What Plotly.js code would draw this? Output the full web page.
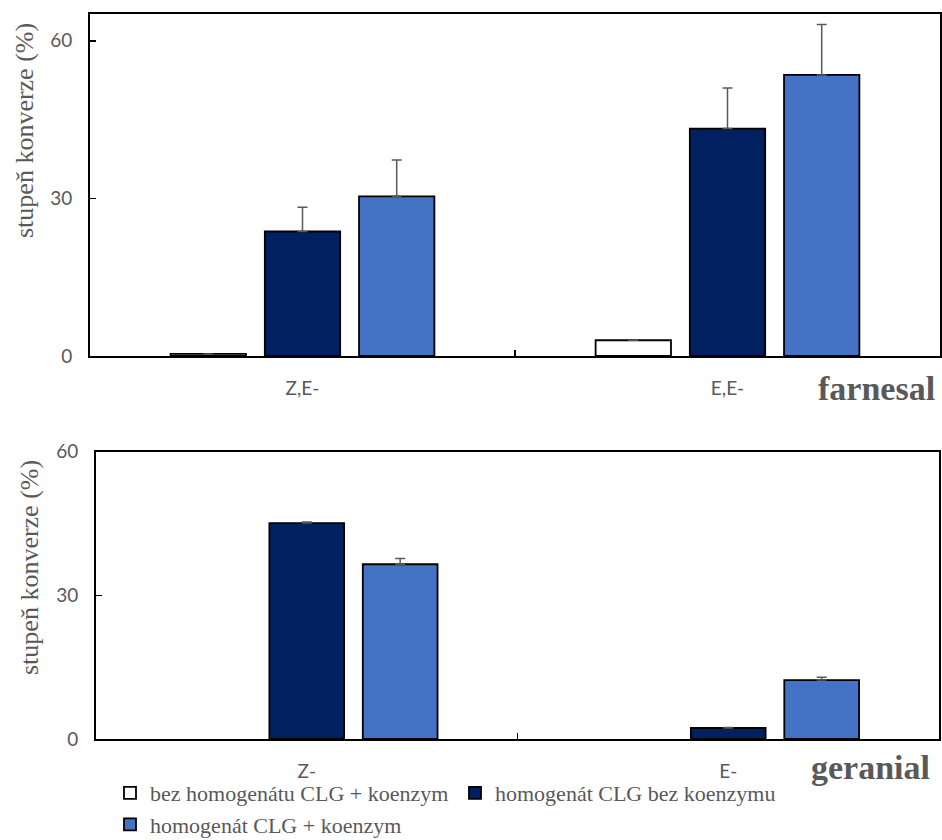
<!DOCTYPE html>
<html>
<head>
<meta charset="utf-8">
<script src="https://cdn.plot.ly/plotly-3.0.1.min.js"></script>
<style>html,body{margin:0;padding:0;background:#fff;}</style>
</head>
<body>
<div id="chart" style="width:942px;height:840px;"></div>
<script>
// ---- data ----
var seriesNames = ["bez homogenátu CLG + koenzym", "homogenát CLG bez koenzymu", "homogenát CLG + koenzym"];
var farnesalCats = ["Z,E-", "E,E-"];
var geranialCats = ["Z-", "E-"];

var farnesalNoHomog = [0.4, 3.0];
var farnesalNoCoenz = [23.7, 43.3];
var farnesalFull    = [30.4, 53.5];
var farnesalNoHomogErr = [0, 0];
var farnesalNoCoenzErr = [4.6, 7.7];
var farnesalFullErr    = [6.9, 9.6];

var geranialNoHomog = [null, null];
var geranialNoCoenz = [45.1, 2.3];
var geranialFull    = [36.5, 12.3];
var geranialNoHomogErr = [0, 0];
var geranialNoCoenzErr = [0.2, 0.1];
var geranialFullErr    = [1.2, 0.6];

var yTicks = [0, 30, 60];
var yTitle = "stupeň konverze (%)";
var panelLabels = ["farnesal", "geranial"];

// ---- styles ----
var fills = ["#FFFFFF", "#002060", "#4472C4"];
var grey = "#595959";
var serif = "'Liberation Serif', 'Times New Roman', serif";
var sans = "Lato, 'Open Sans', sans-serif";

function errObj(arr) {
  return {type: "data", symmetric: false, array: arr, arrayminus: arr.map(function(){return 0;}),
          color: grey, thickness: 1.5, width: 5};
}
function barTrace(name, cats, vals, err, idx, xa, ya, showLeg) {
  return {
    type: "bar", name: name, x: cats, y: vals, xaxis: xa, yaxis: ya,
    marker: {color: fills[idx], line: {color: "#000000", width: 1.8}},
    error_y: errObj(err), showlegend: showLeg, legendgroup: "g" + idx,
    hoverinfo: "x+y+name"
  };
}

var traces = [
  barTrace(seriesNames[0], farnesalCats, farnesalNoHomog, farnesalNoHomogErr, 0, "x", "y", true),
  barTrace(seriesNames[1], farnesalCats, farnesalNoCoenz, farnesalNoCoenzErr, 1, "x", "y", true),
  barTrace(seriesNames[2], farnesalCats, farnesalFull, farnesalFullErr, 2, "x", "y", true),
  barTrace(seriesNames[0], geranialCats, geranialNoHomog, geranialNoHomogErr, 0, "x2", "y2", false),
  barTrace(seriesNames[1], geranialCats, geranialNoCoenz, geranialNoCoenzErr, 1, "x2", "y2", false),
  barTrace(seriesNames[2], geranialCats, geranialFull, geranialFullErr, 2, "x2", "y2", false)
];

function xAxis(domain, anchor) {
  return {
    domain: domain, anchor: anchor, type: "category",
    showline: true, linecolor: "#000", linewidth: 2, mirror: true,
    ticks: "inside", ticklen: 6, tickwidth: 1.5, tickcolor: "#000", tickson: "boundaries",
    showgrid: false, zeroline: false, fixedrange: true, automargin: false,
    tickfont: {family: sans, size: 19, color: grey}, ticklabelstandoff: 14
  };
}
function yAxis(domain, anchor, range) {
  return {
    domain: domain, anchor: anchor, range: range,
    tickvals: yTicks, ticktext: yTicks.map(String),
    showline: true, linecolor: "#000", linewidth: 2, mirror: true,
    ticks: "inside", ticklen: 6, tickwidth: 1.5, tickcolor: "#000",
    showgrid: false, zeroline: false, fixedrange: true, automargin: false,
    tickfont: {family: sans, size: 19, color: grey}, ticklabelstandoff: 12
  };
}

var layout = {
  width: 942, height: 840,
  margin: {l: 0, r: 0, t: 0, b: 0, autoexpand: false},
  paper_bgcolor: "#fff", plot_bgcolor: "#fff",
  barmode: "group", bargap: 0.335, bargroupgap: 0.2,
  xaxis: xAxis([90/942, 940/942], "y"),
  yaxis: yAxis([1 - 356/840, 1 - 14/840], "x", [0, 65.1]),
  xaxis2: xAxis([96/942, 939/942], "y2"),
  yaxis2: yAxis([1 - 739/840, 1 - 451.7/840], "x2", [0, 60]),
  showlegend: true,
  legend: {
    orientation: "h", x: 110/942, xanchor: "left", y: 1 - 772/840, yanchor: "top",
    entrywidth: 300, entrywidthmode: "pixels",
    font: {family: serif, size: 22, color: grey}, bgcolor: "rgba(0,0,0,0)",
    traceorder: "normal", itemclick: false, itemdoubleclick: false
  },
  annotations: [
    {text: yTitle, xref: "paper", yref: "paper", x: 24/942, y: 1 - 131/840, textangle: -90,
     showarrow: false, xanchor: "center", yanchor: "middle", font: {family: serif, size: 26, color: grey}},
    {text: yTitle, xref: "paper", yref: "paper", x: 29/942, y: 1 - 568/840, textangle: -90,
     showarrow: false, xanchor: "center", yanchor: "middle", font: {family: serif, size: 26, color: grey}},
    {text: "<b>" + panelLabels[0] + "</b>", xref: "paper", yref: "paper", x: 876/942, y: 1 - 388/840,
     showarrow: false, xanchor: "center", yanchor: "middle", font: {family: serif, size: 34, color: grey}},
    {text: "<b>" + panelLabels[1] + "</b>", xref: "paper", yref: "paper", x: 870/942, y: 1 - 767/840,
     showarrow: false, xanchor: "center", yanchor: "middle", font: {family: serif, size: 34, color: grey}}
  ]
};

Plotly.newPlot("chart", traces, layout, {displayModeBar: false, staticPlot: true});
</script>
</body>
</html>
